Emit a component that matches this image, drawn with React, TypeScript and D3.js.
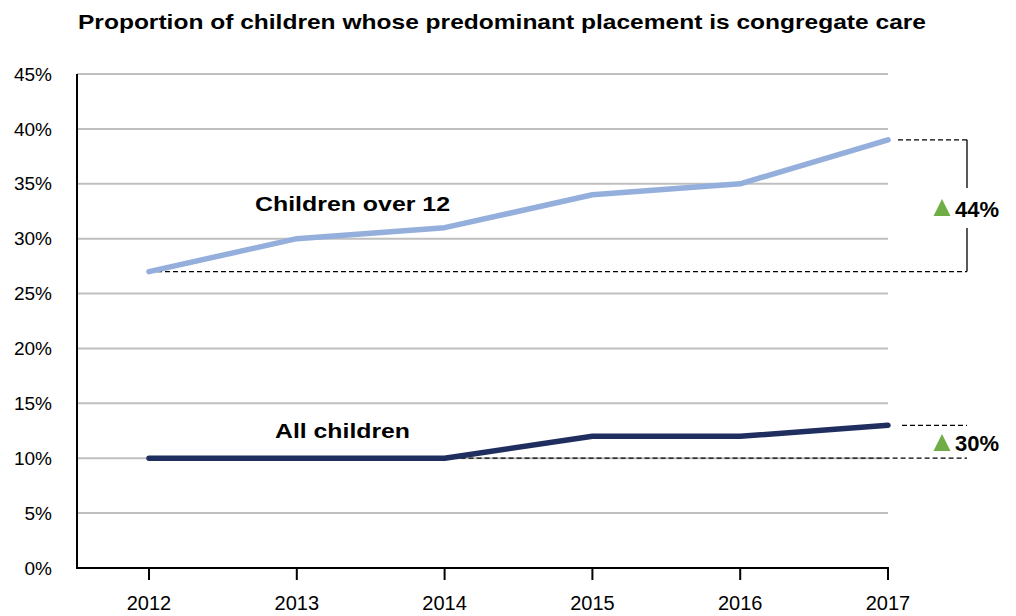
import React from "react";
import * as d3 from "d3";

const years = ["2012", "2013", "2014", "2015", "2016", "2017"];
const over12 = [27, 30, 31, 34, 35, 39];
const allChildren = [10, 10, 10, 12, 12, 13];
const yTicks = [0, 5, 10, 15, 20, 25, 30, 35, 40, 45];
const title = "Proportion of children whose predominant placement is congregate care";
const over12Label = "Children over 12";
const allLabel = "All children";
const over12Change = "44%";
const allChange = "30%";

const W = 1016;
const H = 616;
const FONT = "'Liberation Sans', Arial, sans-serif";

export default function App() {
  const x = d3.scalePoint<string>().domain(years).range([149, 888]);
  const y = d3.scaleLinear().domain([0, 45]).range([568, 74]);
  const line = d3
    .line<number>()
    .x((_, i) => x(years[i]) as number)
    .y((d) => y(d));

  const bracketX = 967;
  const triX = 942;

  const tri = (cx: number, cy: number) =>
    `M${cx - 8.5},${cy + 8} L${cx},${cy - 9} L${cx + 8.5},${cy + 8} Z`;

  const last = years.length - 1;
  const x2017 = x(years[last]) as number;

  return (
    <svg width={W} height={H} style={{ position: "absolute", left: 0, top: 0 }}>
      <rect width={W} height={H} fill="#fff" />
      <text
        x={502}
        y={29}
        textAnchor="middle"
        fontFamily={FONT}
        fontWeight="bold"
        fontSize={21}
        textLength={848}
        lengthAdjust="spacingAndGlyphs"
      >
        {title}
      </text>
      {yTicks.slice(1).map((t) => (
        <line key={t} x1={77} x2={888} y1={y(t)} y2={y(t)} stroke="#BFBFBF" strokeWidth={2} />
      ))}
      {yTicks.map((t) => (
        <text
          key={"l" + t}
          x={52}
          y={y(t)}
          dy="0.35em"
          textAnchor="end"
          fontFamily={FONT}
          fontSize={19}
          fill="#000"
        >
          {t}%
        </text>
      ))}
      <line x1={77} x2={77} y1={74} y2={569} stroke="#000" strokeWidth={2} />
      <line x1={76} x2={889} y1={568} y2={568} stroke="#000" strokeWidth={2} />
      {years.map((yr) => (
        <g key={yr}>
          <line x1={x(yr)} x2={x(yr)} y1={568} y2={580} stroke="#000" strokeWidth={2} />
          <text
            x={x(yr)}
            y={603}
            dy="0.35em"
            textAnchor="middle"
            fontFamily={FONT}
            fontSize={20}
          >
            {yr}
          </text>
        </g>
      ))}

      {/* 44% annotation */}
      <line
        x1={x(years[0])}
        x2={bracketX}
        y1={y(over12[0])}
        y2={y(over12[0])}
        stroke="#000"
        strokeWidth={1.2}
        strokeDasharray="5,3"
      />
      <line
        x1={x2017 + 10}
        x2={bracketX}
        y1={y(over12[last])}
        y2={y(over12[last])}
        stroke="#000"
        strokeWidth={1.2}
        strokeDasharray="5,3"
      />
      <line x1={bracketX} x2={bracketX} y1={y(over12[last])} y2={188} stroke="#000" strokeWidth={1.3} />
      <line x1={bracketX} x2={bracketX} y1={228} y2={y(over12[0])} stroke="#000" strokeWidth={1.3} />
      <path d={tri(triX, 208)} fill="#70AD47" />
      <text x={955} y={209} dy="0.35em" fontFamily={FONT} fontWeight="bold" fontSize={22}>
        {over12Change}
      </text>

      {/* 30% annotation */}
      <line
        x1={x(years[2])}
        x2={bracketX}
        y1={y(allChildren[2])}
        y2={y(allChildren[2])}
        stroke="#000"
        strokeWidth={1.2}
        strokeDasharray="5,3"
      />
      <line
        x1={x2017 + 14}
        x2={bracketX}
        y1={y(allChildren[last])}
        y2={y(allChildren[last])}
        stroke="#000"
        strokeWidth={1.2}
        strokeDasharray="5,3"
      />
      <path d={tri(triX, 443)} fill="#70AD47" />
      <text x={955} y={443} dy="0.35em" fontFamily={FONT} fontWeight="bold" fontSize={22}>
        {allChange}
      </text>

      <path d={line(over12) || ""} fill="none" stroke="#94AFDC" strokeWidth={5.5} strokeLinejoin="round" strokeLinecap="round" />
      <path d={line(allChildren) || ""} fill="none" stroke="#1F2E5E" strokeWidth={5.5} strokeLinejoin="round" strokeLinecap="round" />

      <text x={255} y={204} dy="0.35em" fontFamily={FONT} fontWeight="bold" fontSize={20} textLength={195} lengthAdjust="spacingAndGlyphs">
        {over12Label}
      </text>
      <text x={275} y={431} dy="0.35em" fontFamily={FONT} fontWeight="bold" fontSize={20} textLength={135} lengthAdjust="spacingAndGlyphs">
        {allLabel}
      </text>
    </svg>
  );
}
